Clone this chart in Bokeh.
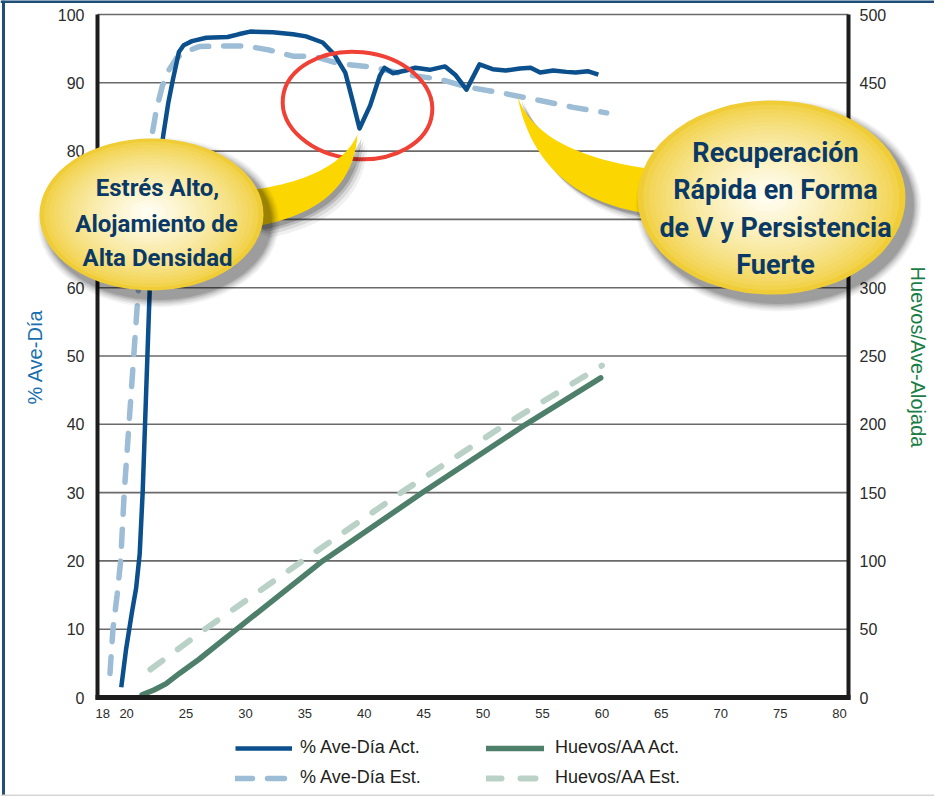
import numpy as np
from bokeh.plotting import figure
from bokeh.models import LinearAxis, Range1d, FixedTicker, Legend, LegendItem
from bokeh.core.properties import value
from bokeh.embed import file_html
from bokeh.resources import INLINE

# ---------------- data ----------------
weeks_pct_act = [19.55, 19.95, 20.45, 20.8, 21.1, 21.35, 21.55, 21.75, 21.95, 22.3,
                 22.75, 23.1, 23.5, 23.9, 24.4, 24.8, 25.5, 26.7, 28.5, 29.4,
                 30.4, 32.3, 34.0, 35.1, 36.5, 37.5, 38.4, 39.0, 39.6, 40.5,
                 41.3, 41.7, 42.4, 43.5, 44.3, 45.5, 46.8, 47.7, 48.6, 49.7,
                 50.8, 51.9, 53.1, 54.0, 54.8, 55.9, 57.0, 57.8, 58.8, 59.7]
pct_act = [1.5, 7, 12.5, 16, 21, 30, 40, 50, 60, 70,
           78, 82.5, 87, 90.5, 94.5, 95.5, 96.1, 96.6, 96.7, 97.1,
           97.5, 97.4, 97.1, 96.8, 95.9, 94.1, 91.5, 87.5, 83.3, 86.7,
           91.0, 92.2, 91.4, 91.8, 92.2, 91.9, 92.4, 91.1, 89.0, 92.7,
           92.0, 91.8, 92.1, 92.2, 91.5, 91.8, 91.6, 91.5, 91.7, 91.2]

weeks_pct_est = [18.6, 18.85, 19.2, 19.5, 19.8, 20.2, 20.6, 21.0, 21.5, 21.95,
                 22.2, 22.5, 23.0, 23.6, 24.2, 24.9, 26.1, 28.0, 30.0, 32.0,
                 34.0, 35.7, 37.9, 40.7, 43.5, 46.4, 48.6, 51.9, 54.8, 57.6, 60.4]
pct_est = [3.5, 10, 15, 20, 30, 40, 50, 60, 70, 80,
           83, 86, 89.5, 92, 93.6, 94.5, 95.3, 95.4, 95.4, 94.8,
           93.9, 93.9, 92.8, 92.3, 91.2, 90.5, 89.4, 88.4, 87.4, 86.4, 85.6]

weeks_eggs_act = [21.3, 22.3, 23.3, 24.5, 26.1, 28.9, 36.5, 44.9, 53.6, 59.9]
eggs_act = [2, 5.5, 10, 18, 28, 47.5, 100, 150, 200, 234]

weeks_eggs_est = [22.0, 26.6, 34.8, 43.1, 51.9, 60.0]
eggs_est = [20.5, 50, 100, 150, 200, 243]

x_ticks = [18, 20, 25, 30, 35, 40, 45, 50, 55, 60, 65, 70, 75, 80]
y_ticks = [0, 10, 20, 30, 40, 50, 60, 70, 80, 90, 100]
y2_ticks = [0, 50, 100, 150, 200, 250, 300, 350, 400, 450, 500]

series_labels = ["% Ave-Día Act.", "% Ave-Día Est.", "Huevos/AA Act.", "Huevos/AA Est."]
left_axis_label = "% Ave-Día"
right_axis_label = "Huevos/Ave-Alojada"
callout_left_lines = ["Estrés Alto,", "Alojamiento de", "Alta Densidad"]
callout_right_lines = ["Recuperación", "Rápida en Forma", "de V y Persistencia", "Fuerte"]

# ---------------- layout (page pixels) ----------------
W, H = 934, 796
AX_L_PX, AX_R_PX, AX_T_PX, AX_B_PX = 105, 856, 22, 705
X_MIN, X_MAX = 17.55, 80.75
sx = (AX_R_PX - AX_L_PX) / (X_MAX - X_MIN)
sy = (AX_B_PX - AX_T_PX) / 100.0
x_start = X_MIN - (AX_L_PX - 8) / sx
x_end = x_start + W / sx
y_end = 100 + (AX_T_PX - 8) / sy
y_start = y_end - H / sy


def px2x(px):
    return x_start + (np.asarray(px, dtype=float) - 8) / sx


def py2y(py):
    return y_end - (np.asarray(py, dtype=float) - 8) / sy


C_ACT = "#0b4f8c"
C_EST = "#9cbdd5"
C_EGG_ACT = "#4d7f6b"
C_EGG_EST = "#b9d1c6"
C_TEXT = "#0b3966"
FONT = "Liberation Sans"
CALLOUT_FONT = "Roboto"

p = figure(width=W, height=H, x_range=Range1d(x_start, x_end), y_range=Range1d(y_start, y_end),
           x_axis_location=None, y_axis_location=None, toolbar_location=None,
           output_backend="svg", min_border=0, outline_line_color=None,
           background_fill_color="white", border_fill_color="white")
p.grid.visible = False
p.extra_y_ranges = {"eggs": Range1d(y_start * 5, y_end * 5)}

# outer border of the graphic
p.segment(x0=[px2x(11)], y0=[py2y(8)], x1=[px2x(11)], y1=[py2y(804)], line_color="#1f4e79", line_width=3)
p.segment(x0=[px2x(8)], y0=[py2y(9)], x1=[px2x(942)], y1=[py2y(9)], line_color="#1f4e79", line_width=3)
p.segment(x0=[px2x(8)], y0=[py2y(803)], x1=[px2x(942)], y1=[py2y(803)], line_color="#d5d5d5", line_width=2)

# horizontal gridlines
grid_y = y_ticks[1:]
p.segment(x0=[X_MIN] * len(grid_y), y0=grid_y, x1=[X_MAX] * len(grid_y), y1=grid_y,
          line_color="#6a6a6a", line_width=1.6)

# axes
left = LinearAxis(fixed_location=X_MIN, bounds=(-0.35, 100), ticker=FixedTicker(ticks=y_ticks),
                  axis_label=left_axis_label)
right = LinearAxis(y_range_name="eggs", fixed_location=X_MAX, bounds=(-1.75, 500),
                   ticker=FixedTicker(ticks=y2_ticks), axis_label=right_axis_label)
bottom = LinearAxis(fixed_location=0, bounds=(X_MIN - 0.17, X_MAX + 0.17), ticker=FixedTicker(ticks=x_ticks))
for ax in (left, right, bottom):
    ax.major_tick_line_color = None
    ax.minor_tick_line_color = None
    ax.axis_line_color = "#1c1c1c"
    ax.major_label_text_color = "#2b2b2b"
    ax.major_label_text_font = FONT
    ax.axis_label_text_font = FONT
    ax.axis_label_text_font_style = "normal"
left.axis_line_width = 4
right.axis_line_width = 4
bottom.axis_line_width = 5
left.major_label_text_font_size = "16px"
right.major_label_text_font_size = "16px"
bottom.major_label_text_font_size = "13px"
left.major_label_standoff = 7
right.major_label_standoff = 5
bottom.major_label_standoff = 5
left.axis_label_text_font_size = "20px"
right.axis_label_text_font_size = "20px"
left.axis_label_text_color = "#1b6fae"
right.axis_label_text_color = "#1b7d46"
left.axis_label_standoff = 9
right.axis_label_standoff = 18
p.add_layout(left, "left")
p.add_layout(right, "right")
p.add_layout(bottom, "below")

# series
r_est = p.line(weeks_pct_est, pct_est, line_color=C_EST, line_width=5.5,
               line_dash="17 15", line_cap="round")
r_act = p.line(weeks_pct_act, pct_act, line_color=C_ACT, line_width=4.5, line_join="round")
r_egg_est = p.line(weeks_eggs_est, eggs_est, y_range_name="eggs", line_color=C_EGG_EST,
                   line_width=6, line_dash="15 19", line_cap="round")
r_egg_act = p.line(weeks_eggs_act, eggs_act, y_range_name="eggs", line_color=C_EGG_ACT,
                   line_width=5.5, line_cap="round", line_join="round")

# legends
leg_style = dict(padding=0, margin=0, border_line_color=None, background_fill_alpha=0,
                 glyph_height=20, label_height=20, spacing=9, label_text_font=FONT,
                 label_text_font_size="18px", label_text_color="#231f20")
leg1 = Legend(items=[LegendItem(label=series_labels[0], renderers=[r_act]),
                     LegendItem(label=series_labels[1], renderers=[r_est])],
              location=(243 - 8, 804 - 796), glyph_width=57, label_standoff=8, **leg_style)
leg2 = Legend(items=[LegendItem(label=series_labels[2], renderers=[r_egg_act]),
                     LegendItem(label=series_labels[3], renderers=[r_egg_est])],
              location=(494 - 8, 804 - 796), glyph_width=58, label_standoff=11, **leg_style)
p.add_layout(leg1)
p.add_layout(leg2)

# red hand-drawn ring
p.ellipse(x=[px2x(365)], y=[py2y(113)], width=150, height=107, angle=-0.1,
          width_units="screen", height_units="screen", fill_color=None,
          line_color="#ef4136", line_width=4, level="overlay")


def qbez(p0, c, p1, n=24):
    t = np.linspace(0, 1, n)[:, None]
    p0, c, p1 = map(np.asarray, (p0, c, p1))
    return (1 - t) ** 2 * p0 + 2 * (1 - t) * t * c + t ** 2 * p1


def tail(inner, b1, c1, tip, c2, b2):
    up = qbez(b1, c1, tip)
    lo = qbez(tip, c2, b2)
    pts = np.vstack([[inner], up, lo, [inner]])
    return pts[:, 0], pts[:, 1]


def draw_tail(pts_x, pts_y):
    for dx, dy, a in [(10, 12, 0.06), (8, 9, 0.09), (6, 6, 0.14), (4, 4, 0.18)]:
        p.patch(px2x(pts_x + dx), py2y(pts_y + dy), fill_color="black", fill_alpha=a,
                line_color=None, level="overlay")
    p.patch(px2x(pts_x), py2y(pts_y), fill_color="#fcd600", line_color=None, level="overlay")


EDGE = np.array([240, 205, 55])
CENTER = np.array([255, 253, 240])


def bubble(cx, cy, w, h):
    for k, a in enumerate([0.04, 0.05, 0.06, 0.08, 0.10, 0.12]):
        g = 18 - 3 * k
        p.ellipse(x=[px2x(cx + 7)], y=[py2y(cy + 8)], width=w + g, height=h + g,
                  width_units="screen", height_units="screen", fill_color="black",
                  fill_alpha=a, line_color=None, level="overlay")
    n = 22
    for i in range(n):
        t = i / (n - 1)
        f = 1 - 0.93 * t
        rgb = EDGE + (CENTER - EDGE) * min(1.0, t ** 0.7)
        col = "#%02x%02x%02x" % tuple(int(round(v)) for v in rgb)
        p.ellipse(x=[px2x(cx - 4 * t)], y=[py2y(cy - 2 * t)], width=w * f, height=h * f,
                  width_units="screen", height_units="screen", fill_color=col,
                  line_color=None, level="overlay")


# left callout
tx, ty = tail((225, 218), (262, 197), (345, 185), (365, 142), (360, 215), (268, 233))
draw_tail(tx, ty)
bubble(159, 222, 224, 152)
p.text(x=px2x([165, 164, 165]), y=py2y([195, 231, 265]), text=callout_left_lines,
       text_font=value(CALLOUT_FONT), text_font_style="bold", text_font_size="24px",
       text_color=C_TEXT, text_align="center", text_baseline="alphabetic", level="overlay")

# right callout
tx, ty = tail((705, 200), (655, 176), (545, 160), (525, 104), (545, 205), (655, 221))
draw_tail(tx, ty)
bubble(779, 205, 268, 194)
p.text(x=px2x([783, 783, 783, 783]), y=py2y([160, 197, 235, 272]), text=callout_right_lines,
       text_font=value(CALLOUT_FONT), text_font_style="bold", text_font_size="27px",
       text_color=C_TEXT, text_align="center", text_baseline="alphabetic", level="overlay")

open("out.html", "w").write(file_html(p, INLINE))
